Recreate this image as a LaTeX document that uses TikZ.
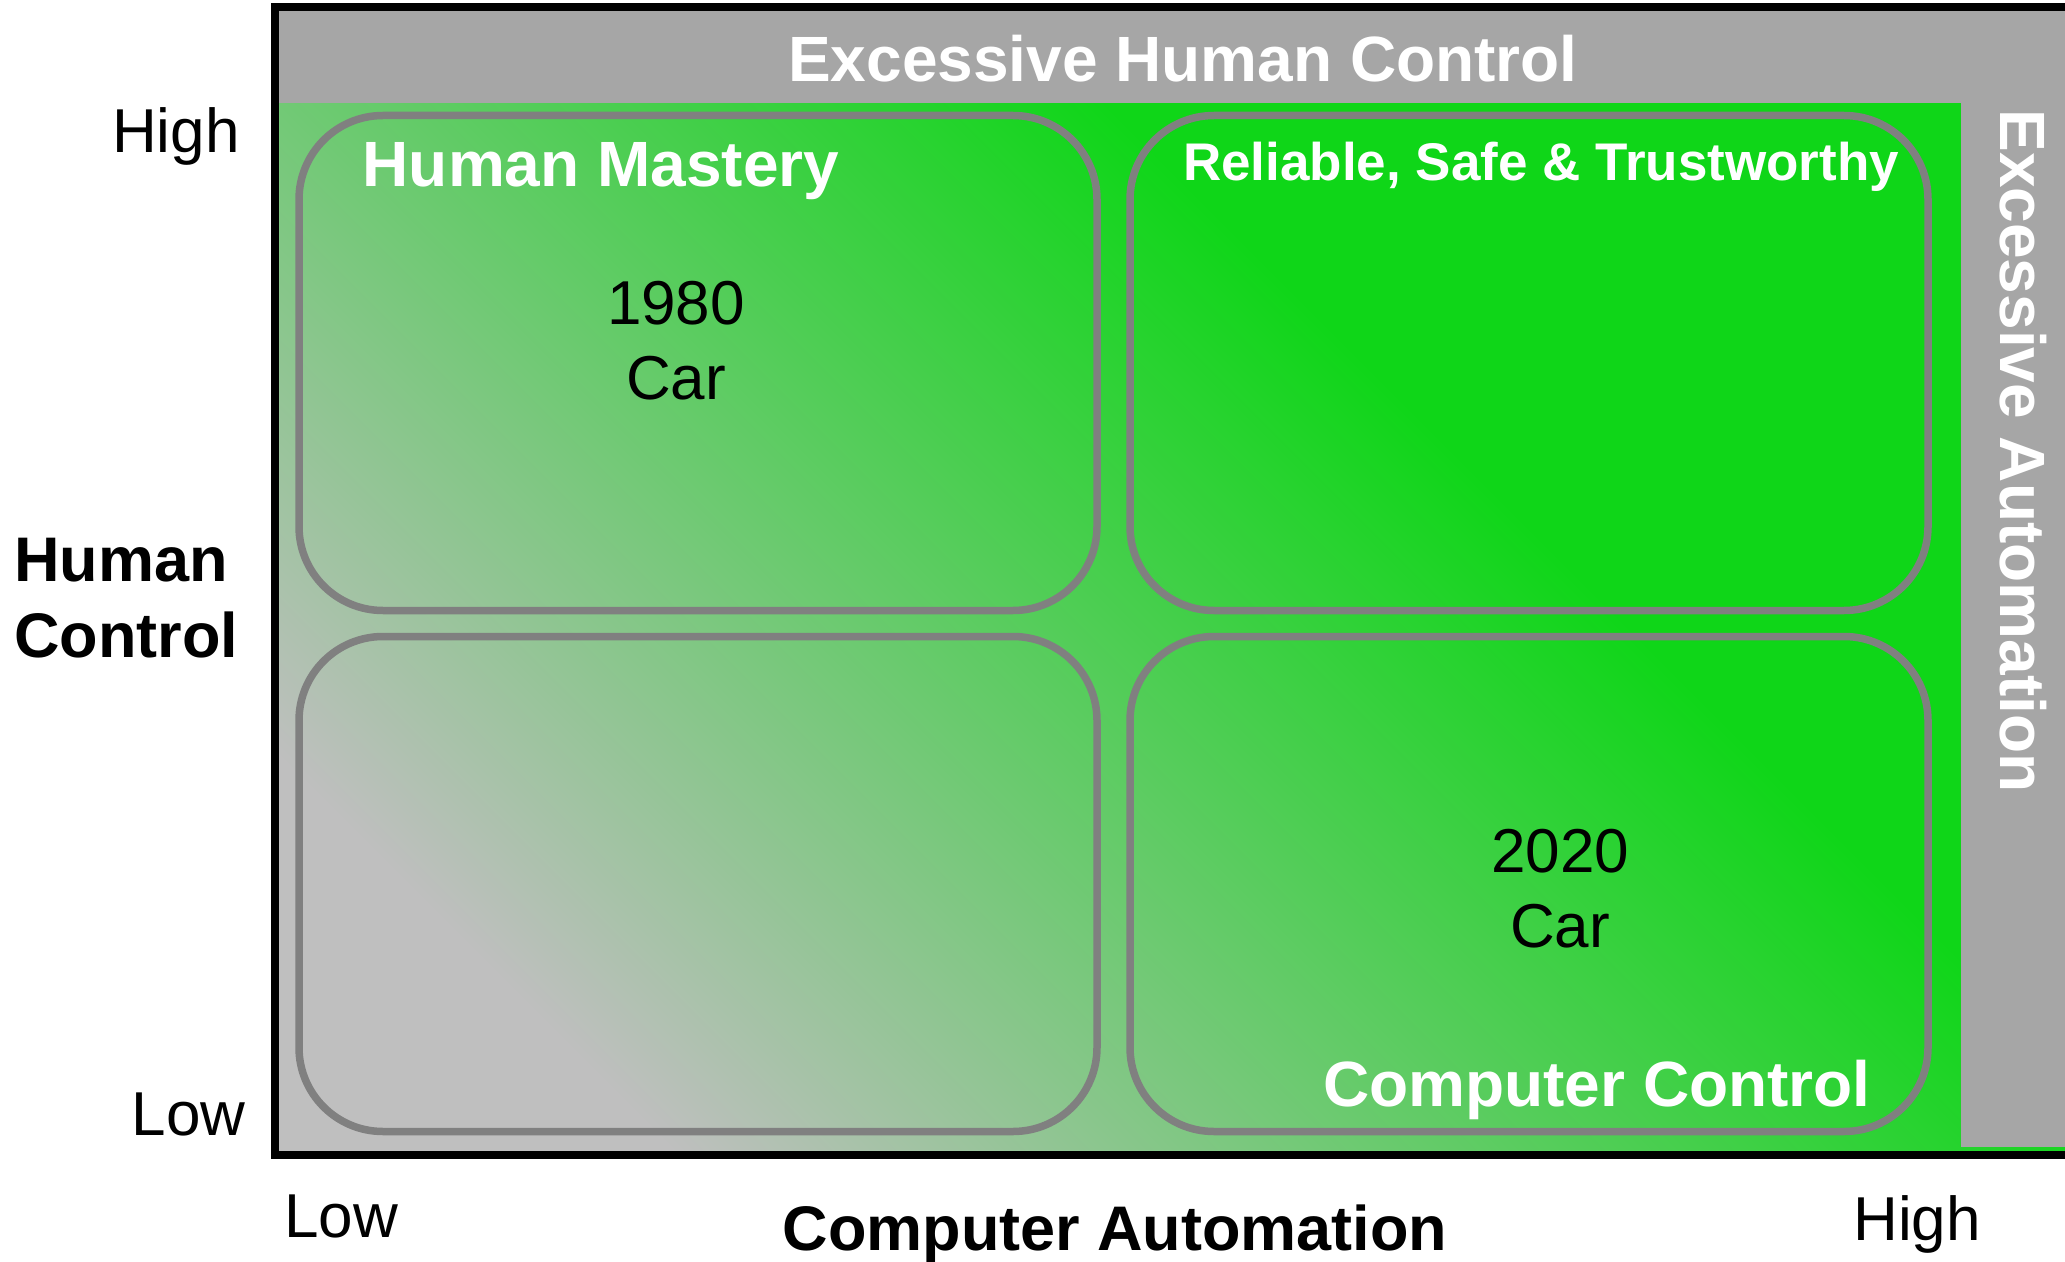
\documentclass[tikz,border=0pt]{standalone}
\usepackage{fontspec}
\setmainfont{Liberation Sans}
\usetikzlibrary{positioning,calc}
\definecolor{lowgray}{HTML}{BFBFBF}
\definecolor{autogreen}{HTML}{0FD618}
\definecolor{bandgray}{HTML}{A6A6A6}
\definecolor{edgegray}{HTML}{808080}
\pgfdeclarehorizontalshading{ctrlramp}{100bp}{color(0bp)=(lowgray); color(24bp)=(lowgray); color(60bp)=(autogreen); color(100bp)=(autogreen)}

\begin{document}
\begin{tikzpicture}[x=0.5pt,y=-0.5pt,
  quad/.style={draw=edgegray, line width=3.75pt, rounded corners=42pt, minimum width=399pt, minimum height=247.5pt, inner sep=0pt, outer sep=0pt},
  big/.style={font=\fontsize{32}{38}\selectfont\bfseries, inner sep=0pt},
  plain/.style={font=\fontsize{31}{37.5}\selectfont, inner sep=0pt}]
\useasboundingbox (0,0) rectangle (2065,1262);
\shade[shading=ctrlramp, shading angle=45] (279,11) rectangle (2065,1151);
\fill[bandgray] (279,11) rectangle (2065,103);
\fill[bandgray] (1961,103) rectangle (2065,1147);
\draw[line width=4pt] (2075,7) -- (275,7) -- (275,1155) -- (2075,1155);

\node[quad] (HM) at (698,363) {};
\node[quad, right=16.5pt of HM] (RS) {};
\node[quad, below=13pt of HM] (LL) {};
\node[quad, below=13pt of RS] (CC) {};

\node[big, white, anchor=base] (EHC) at (1183,82) {Excessive Human Control};
\node[big, white, anchor=base, rotate=-90] (EA) at (2000,451) {Excessive Automation};
\node[big, white, anchor=base] (HMt) at (601,187) {Human Mastery};
\node[font=\fontsize{26.5}{30}\selectfont\bfseries, white, anchor=base, inner sep=0pt] (RSt) at (1541,181) {Reliable, Safe \& Trustworthy};
\node[big, white, anchor=base] (CCt) at (1597,1106) {Computer Control};
\node[plain, align=center, anchor=base] (car80) at (676,400) {1980\\Car};
\node[plain, align=center, anchor=base] (car20) at (1560,947) {2020\\Car};

\node[plain, anchor=base east] (hiY) at (240,153) {High};
\node[plain, anchor=base east] (loY) at (246,1135) {Low};
\node[font=\fontsize{31.5}{38}\selectfont\bfseries, inner sep=0pt, align=left, anchor=base west] (ylab) at (14,657) {Human\\Control};
\node[plain, anchor=base west] (loX) at (284,1237) {Low};
\node[font=\fontsize{31.5}{38}\selectfont\bfseries, inner sep=0pt, anchor=base] (xlab) at (1115,1250) {Computer Automation};
\node[plain, anchor=base] (hiX) at (1917,1240) {High};
\end{tikzpicture}
\end{document}
